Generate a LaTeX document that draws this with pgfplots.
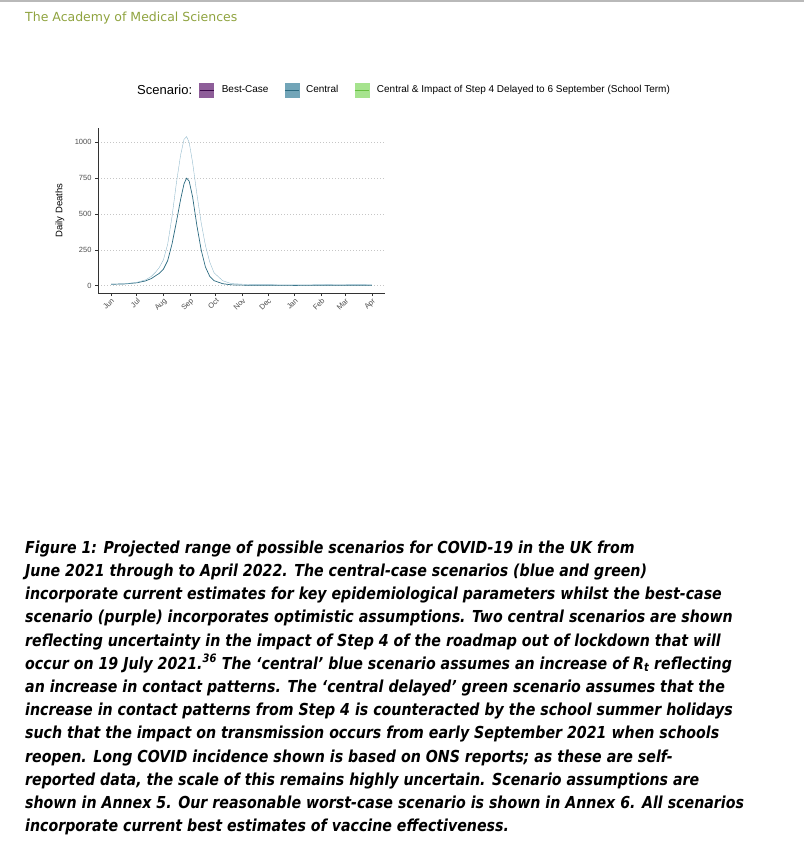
\documentclass[border=0pt]{standalone}
\usepackage{fontspec}
\setmainfont{Liberation Sans}
\newfontfamily\headfont{DejaVu Sans}
\newfontfamily\capfont{DejaVu Sans}[FakeStretch=0.86]
\usepackage{pgfplots}
\pgfplotsset{compat=1.18}
\usepackage{pgfplotstable}

\definecolor{pOut}{HTML}{BB71C1}
\definecolor{pIn}{HTML}{500A5E}
\definecolor{pLine}{HTML}{3D0A4B}
\definecolor{bOut}{HTML}{93BBCD}
\definecolor{bIn}{HTML}{286F87}
\definecolor{bLine}{HTML}{2B6A80}
\definecolor{gOut}{HTML}{BBE5A1}
\definecolor{gIn}{HTML}{78CF4B}
\definecolor{gLine}{HTML}{66C040}
\definecolor{pKey}{HTML}{8E5E99}
\definecolor{bKey}{HTML}{72A5B8}
\definecolor{gKey}{HTML}{A6E38E}
\definecolor{axisgray}{HTML}{333333}
\definecolor{ticktext}{HTML}{4D4D4D}
\definecolor{acad}{HTML}{8FA33F}

\pgfplotstableread{
x olo ilo med ihi ohi
0 9 9 10 10 11
15 10 11 12 12 13
30 17 18 20 21 23
40 28 30 33 36 40
47 40 44 50 58 65
52 55 60 70 85 95
56 62 70 85 110 125
61 70 85 115 160 180
66 95 115 175 260 290
71 140 175 290 440 480
76 200 255 440 660 710
81 265 330 600 860 910
85 300 375 710 960 1020
88 310 395 750 980 1040
91 300 385 730 940 1000
95 260 340 620 800 860
100 180 245 420 580 640
105 105 150 250 390 440
110 55 85 130 240 280
115 28 45 65 135 165
120 13 22 35 70 90
130 4 8 14 25 35
140 1 3 6 10 15
160 0 1 3 5 8
214 0 0 2 4 6
304 0 1 3 6 10
}\Db

\pgfplotsset{
  covid/.style={
    width=287pt, height=165pt, scale only axis,
    axis lines*=left,
    axis line style={axisgray, line width=0.9pt},
    xmin=-15.2, xmax=319.2,
    xtick={0,30,61,92,122,153,183,214,245,273,304},
    xticklabels={Jun,Jul,Aug,Sep,Oct,Nov,Dec,Jan,Feb,Mar,Apr},
    xticklabel style={rotate=45, anchor=north east, font=\fontsize{7.5}{9}\selectfont, text=ticktext, inner sep=1pt},
    yticklabel style={font=\fontsize{7.5}{9}\selectfont, text=ticktext},
    tick align=outside, major tick length=3pt,
    tick style={axisgray, line width=0.6pt},
    ymajorgrids,
    major grid style={gray!45, dash pattern=on 1pt off 2pt, line width=0.6pt},
    scaled y ticks=false,
    /pgf/number format/1000 sep={},
    /pgf/number format/assume math mode=true,
  },
}

\begin{document}
\begin{tikzpicture}
\path[use as bounding box] (0,0) rectangle (804pt,-848pt);
\fill[gray!55] (0,0) rectangle (804pt,-2pt);
\node[anchor=base west, font=\headfont\fontsize{12.5}{15}\selectfont, text=acad, inner sep=0] at (25pt,-22pt) {The Academy of Medical Sciences};

\begin{axis}[covid, at={(98pt,-293pt)}, anchor=south west,
  ymin=-51, ymax=1100, ytick={0,250,500,750,1000},
  after end axis/.code={
    \node[rotate=90, font=\fontsize{9.5}{11}\selectfont] at ([xshift=-38pt]rel axis cs:0,0.5) {Daily Deaths};
    \node[anchor=west, font=\fontsize{13}{15}\selectfont, inner sep=0] at (rel axis cs:0.136,1.23) {Scenario:};
  },
  legend style={at={(0.352,1.23)}, anchor=west, draw=none, fill=none, inner sep=0pt,
    legend columns=3, font=\fontsize{10}{12}\selectfont,
    nodes={inner xsep=0pt},
    /tikz/every even column/.append style={column sep=16pt}},
  legend cell align=left]
\addplot[bLine, line width=0.7pt, forget plot] table[x=x,y=med]{\Db};
\addplot[bOut, forget plot] table[x=x,y=ohi]{\Db};
\addlegendimage{legend image code/.code={\fill[pKey] (0pt,-7pt) rectangle (14pt,7pt); \draw[pLine, line width=0.8pt] (0pt,0pt) -- (14pt,0pt); \path (22pt,0pt);}}
\addlegendentry{Best-Case}
\addlegendimage{legend image code/.code={\fill[bKey] (0pt,-7pt) rectangle (14pt,7pt); \draw[bLine, line width=0.8pt] (0pt,0pt) -- (14pt,0pt); \path (21pt,0pt);}}
\addlegendentry{Central}
\addlegendimage{legend image code/.code={\fill[gKey] (0pt,-7pt) rectangle (14pt,7pt); \draw[gLine, line width=0.8pt] (0pt,0pt) -- (14pt,0pt); \path (22pt,0pt);}}
\addlegendentry{Central \& Impact of Step 4 Delayed to 6 September (School Term)}
\end{axis}

\node[anchor=north west, align=left, inner sep=0,
  font=\capfont\fontsize{16.5}{23.2}\selectfont\bfseries\itshape] at (25pt,-540.5pt) {%
Figure 1: Projected range of possible scenarios for COVID-19 in the UK from\\
June 2021 through to April 2022. The central-case scenarios (blue and green)\\
incorporate current estimates for key epidemiological parameters whilst the best-case\\
scenario (purple) incorporates optimistic assumptions. Two central scenarios are shown\\
reflecting uncertainty in the impact of Step 4 of the roadmap out of lockdown that will\\
occur on 19 July 2021.\textsuperscript{36} The ‘central’ blue scenario assumes an increase of R\textsubscript{t} reflecting\\
an increase in contact patterns. The ‘central delayed’ green scenario assumes that the\\
increase in contact patterns from Step 4 is counteracted by the school summer holidays\\
such that the impact on transmission occurs from early September 2021 when schools\\
reopen. Long COVID incidence shown is based on ONS reports; as these are self-\\
reported data, the scale of this remains highly uncertain. Scenario assumptions are\\
shown in Annex 5. Our reasonable worst-case scenario is shown in Annex 6. All scenarios\\
incorporate current best estimates of vaccine effectiveness.};
\end{tikzpicture}
\end{document}
